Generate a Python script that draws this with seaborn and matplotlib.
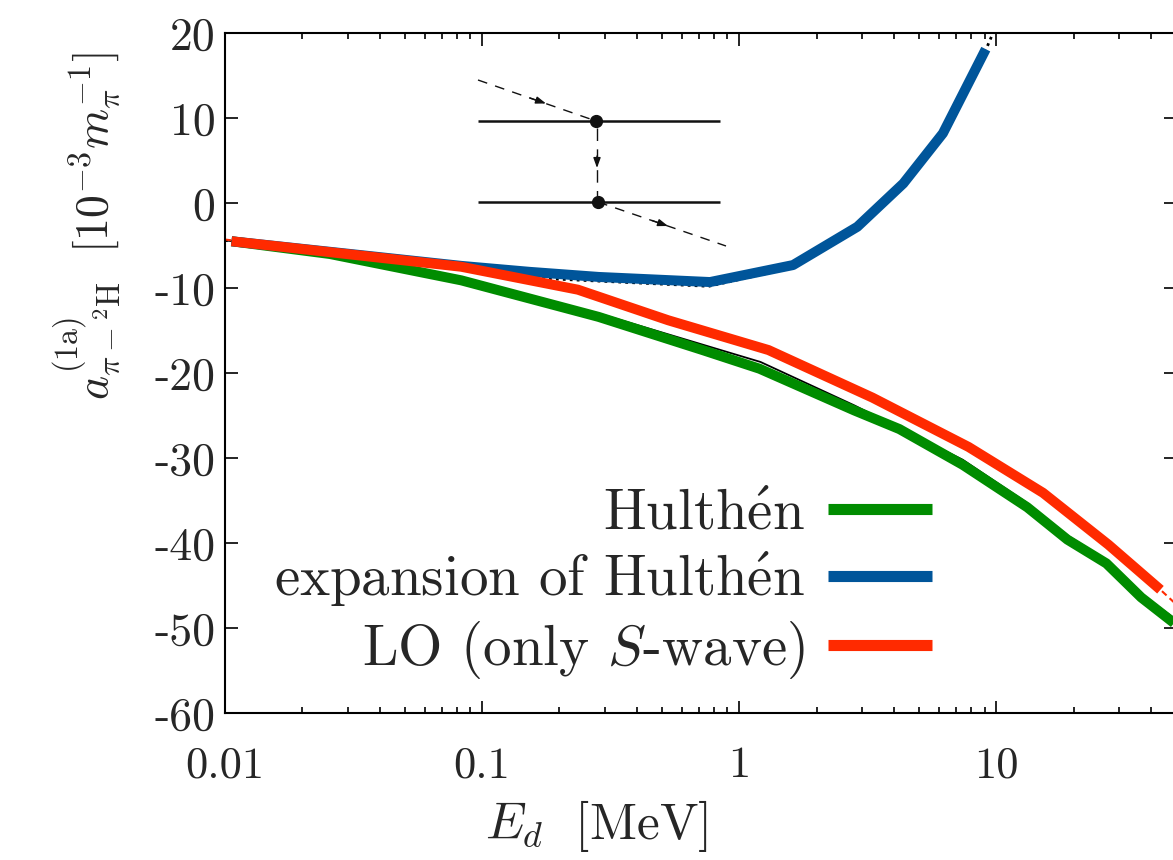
import numpy as np
import pandas as pd
import matplotlib
matplotlib.use("Agg")
import matplotlib.pyplot as plt
import seaborn as sns
from matplotlib.ticker import FixedLocator, FixedFormatter, NullFormatter

# ---------------- data ----------------
hulthen_E = [0.0106, 0.0256, 0.083, 0.284, 0.72, 1.2, 2.8, 4.2, 7.4, 13.2, 18.9, 26.8, 36.6, 50.0]
hulthen_a = [-4.5, -6.0, -9.1, -13.4, -17.3, -19.5, -24.4, -26.6, -30.8, -35.8, -39.6, -42.4, -46.4, -49.6]

expansion_E = [0.0106, 0.083, 0.153, 0.284, 0.77, 1.62, 2.88, 4.35, 6.2, 9.1]
expansion_a = [-4.5, -7.4, -8.1, -8.7, -9.3, -7.3, -2.8, 2.3, 8.2, 18.1]

lo_E = [0.0106, 0.083, 0.236, 0.53, 1.3, 3.3, 7.8, 15.2, 27.3, 43.5]
lo_a = [-4.5, -7.5, -10.2, -13.8, -17.3, -22.9, -28.7, -34.1, -40.2, -45.5]

# thin reference curves lying under the thick ones
thin_solid_E = [0.01, 0.0256, 0.083, 0.284, 1.21, 2.8, 7.4, 13.2, 18.9, 26.8, 36.6, 50.0]
thin_solid_a = [-4.4, -5.8, -8.8, -13.0, -18.7, -23.8, -30.2, -35.3, -39.1, -42.0, -46.0, -49.0]

thin_dotted_E = [0.01, 0.083, 0.153, 0.76, 1.62, 2.88, 4.35, 6.2, 9.1, 9.9]
thin_dotted_a = [-4.4, -7.5, -8.8, -9.8, -7.6, -3.1, 2.0, 7.9, 18.0, 20.6]

thin_dashed_E = [0.01, 0.083, 0.236, 0.53, 1.3, 3.3, 7.8, 15.2, 27.3, 43.5, 50.0]
thin_dashed_a = [-4.3, -7.5, -10.2, -13.8, -17.3, -22.9, -28.7, -34.1, -40.2, -45.5, -47.2]

labels = ["Hulth$\\acute{\\mathrm{e}}$n", "expansion of Hulth$\\acute{\\mathrm{e}}$n", "LO (only $S$-wave)"]
colors = ["#008c00", "#00559a", "#ff2a00"]

y_ticks = [-60, -50, -40, -30, -20, -10, 0, 10, 20]
y_ticklabels = ["-60", "-50", "-40", "-30", "-20", "-10", "0", "10", "20"]
x_ticks = [0.01, 0.1, 1, 10]
x_ticklabels = ["0.01", "0.1", "1", "10"]

# ---------------- style ----------------
sns.set_theme(style="ticks")
plt.rcParams["font.family"] = ["cmr10"]
plt.rcParams["mathtext.fontset"] = "cm"
plt.rcParams["axes.unicode_minus"] = False
plt.rcParams["axes.formatter.use_mathtext"] = True
plt.rcParams["lines.solid_capstyle"] = "butt"
plt.rcParams["lines.solid_joinstyle"] = "miter"

W, H = 1173, 860
fig = plt.figure(figsize=(W / 100, H / 100), dpi=100)
ax = fig.add_axes([225 / W, 1 - 713 / H, 951 / W, 680 / H])

def draw(E, a, **kw):
    df = pd.DataFrame({"E": E, "a": a})
    sns.lineplot(data=df, x="E", y="a", ax=ax, sort=False, estimator=None, **kw)

# thin curves first
draw(thin_solid_E, thin_solid_a, color="black", lw=1.3, zorder=2)
draw(thin_dotted_E, thin_dotted_a, color="black", lw=2.0, ls=(0, (1, 1.5)), zorder=2)
draw(thin_dashed_E, thin_dashed_a, color=colors[2], lw=1.5, ls=(0, (3, 2)), zorder=2)

# thick curves
for E, a, c, lab in [(hulthen_E, hulthen_a, colors[0], labels[0]),
                     (expansion_E, expansion_a, colors[1], labels[1]),
                     (lo_E, lo_a, colors[2], labels[2])]:
    draw(E, a, color=c, lw=7.2, zorder=3, label=lab)
for ln in ax.get_lines():
    ln.set_solid_capstyle("butt")
    ln.set_solid_joinstyle("round")

ax.set_xscale("log")
ax.set_xlim(0.01, 50)
ax.set_ylim(-60, 20)
ax.xaxis.set_major_locator(FixedLocator(x_ticks))
ax.xaxis.set_major_formatter(FixedFormatter(x_ticklabels))
minor = [m * d for d in [0.01, 0.1, 1, 10] for m in range(2, 10) if m * d <= 50]
ax.xaxis.set_minor_locator(FixedLocator(minor))
ax.xaxis.set_minor_formatter(NullFormatter())
ax.yaxis.set_major_locator(FixedLocator(y_ticks))
ax.yaxis.set_major_formatter(FixedFormatter(y_ticklabels))
ax.set_xlabel("")
ax.set_ylabel("")

for s in ax.spines.values():
    s.set_linewidth(1.5)
    s.set_color("black")
ax.tick_params(which="both", direction="in", top=True, right=True, color="black", width=1.2)
ax.tick_params(which="major", length=9)
ax.tick_params(which="minor", length=4.5)
ax.tick_params(axis="x", which="major", pad=24, labelsize=32)
ax.tick_params(axis="y", which="major", pad=7, labelsize=33)

fig.text(596 / W, 1 - 826 / H, r"$E_d\ \ [\mathrm{MeV}]$", ha="center", va="center", fontsize=37)
fig.text(88 / W, 1 - 226 / H,
         r"$a^{(1\mathrm{a})}_{\pi-{}^{2}\mathrm{H}}\ \ [10^{-3}m_\pi^{-1}]$",
         rotation=90, ha="center", va="center", fontsize=33)

leg = ax.legend(loc="upper right", bbox_to_anchor=(932 / W, 1 - 489 / H),
                bbox_transform=fig.transFigure, frameon=False, markerfirst=False,
                fontsize=41, handlelength=1.83, handletextpad=0.4, labelspacing=0.175,
                borderpad=0, borderaxespad=0)
for t in leg.get_texts():
    t.set_ha("right")
for h in leg.get_lines():
    h.set_solid_capstyle("butt")
    h.set_linewidth(8)

# ---------------- inset: Feynman diagram (decoration, pixel coordinates) ----------------
ins = fig.add_axes([460 / W, 1 - 260 / H, 280 / W, 200 / H])
ins.set_xlim(460, 740)
ins.set_ylim(260, 60)
ins.axis("off")
ins.patch.set_alpha(0)
ins.plot([478, 720], [121, 121], color="#111111", lw=1.8)
ins.plot([478, 720], [202, 202], color="#111111", lw=1.8)
ins.plot([478, 596], [80, 121], color="#111111", lw=1.0, ls=(0, (7, 6)))
ins.plot([598, 726], [202, 246], color="#111111", lw=1.0, ls=(0, (7, 6)))
ins.plot([597, 597], [128, 196], color="#111111", lw=1.0, ls=(0, (9, 6)))
ins.plot([596, 598], [121, 202], "o", color="#111111", ms=8.5)
for (x0, y0, x1, y1) in [(530, 98, 546, 103.5), (652, 220.5, 668, 226), (597, 156, 597, 168)]:
    ins.annotate("", xy=(x1, y1), xytext=(x0, y0),
                 arrowprops=dict(arrowstyle="-|>,head_length=0.5,head_width=0.18",
                                 color="#111111", lw=1.0, shrinkA=0, shrinkB=0))

fig.savefig("out.png", dpi=100)
